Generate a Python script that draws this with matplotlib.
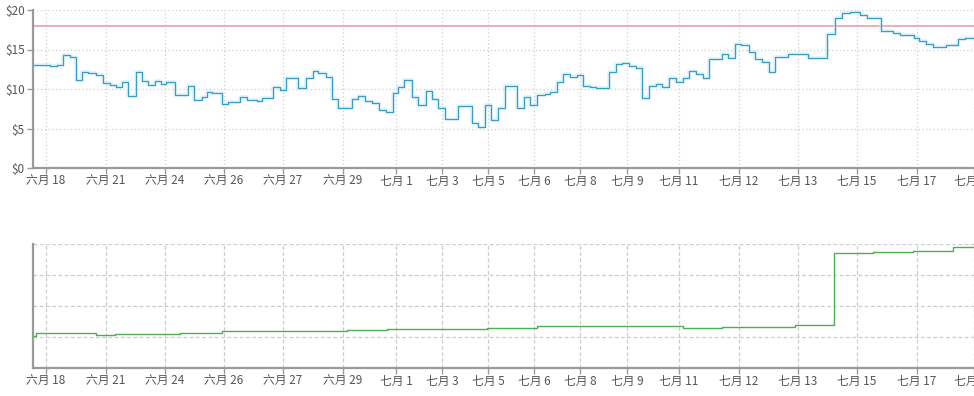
import numpy as np
import matplotlib
matplotlib.use("Agg")
import matplotlib.pyplot as plt

plt.rcParams['font.family'] = ['Noto Sans CJK SC', 'DejaVu Sans']

# posiciones (índice de muestra) y precios del tramo superior
price_t = [0, 17, 24, 30, 37, 43, 49, 55, 63, 70, 77, 83, 89, 95, 103, 109, 115, 122, 128, 133,
           142, 155, 161, 169, 174, 179, 189, 195, 207, 214, 224, 229, 240, 247, 253, 265, 273, 280,
           285, 293, 299, 305, 319, 325, 332, 339, 346, 353, 360, 365, 371, 379, 385, 393, 399, 405,
           412, 425, 439, 445, 452, 458, 465, 472, 484, 491, 497, 504, 512, 517, 524, 530, 537, 544,
           550, 557, 563, 576, 583, 589, 596, 603, 609, 616, 623, 629, 636, 643, 650, 656, 663, 670,
           676, 689, 695, 702, 708, 716, 722, 729, 736, 742, 755, 775, 794, 802, 809, 817, 827, 834,
           848, 860, 867, 881, 886, 893, 900, 913, 925, 932, 941]
price = [13.1, 12.95, 13.1, 14.3, 14.1, 11.2, 12.2, 12.0, 11.8, 10.7, 10.5, 10.3, 10.9, 9.15, 12.2,
         11.0, 10.45, 10.95, 10.6, 10.85, 9.3, 10.4, 8.6, 8.95, 9.65, 9.5, 8.05, 8.3, 9.0, 8.6, 8.45,
         8.85, 10.3, 9.9, 11.35, 10.1, 11.35, 12.3, 12.05, 11.55, 8.75, 7.65, 8.7, 9.1, 8.5, 8.25,
         7.35, 7.1, 9.45, 10.2, 11.2, 9.0, 7.95, 9.75, 8.7, 7.65, 6.25, 7.9, 5.65, 5.2, 7.95, 6.1,
         7.55, 10.4, 7.65, 9.0, 8.0, 9.25, 9.35, 9.65, 10.9, 11.85, 11.5, 11.8, 10.4, 10.3, 10.1,
         12.15, 13.15, 13.25, 12.9, 12.6, 8.8, 10.4, 10.6, 10.25, 11.35, 10.9, 11.35, 12.3, 11.9,
         11.35, 13.8, 14.45, 13.9, 15.7, 15.6, 14.7, 13.75, 13.45, 12.15, 14.1, 14.45, 13.9, 16.9,
         18.95, 19.6, 19.8, 19.35, 19.05, 17.4, 17.05, 16.85, 16.4, 16.1, 15.65, 15.35, 15.6, 16.35,
         16.4, 16.4]
ref_price = 18.0

# tramo inferior (sin escala visible)
rank_t = [0, 3, 63, 82, 147, 189, 203, 314, 354, 454, 504, 650, 689, 762, 801, 840, 880, 920, 941]
rank = [1.03, 1.12, 1.06, 1.09, 1.12, 1.18, 1.20, 1.23, 1.26, 1.30, 1.34, 1.28, 1.31, 1.38,
        3.72, 3.74, 3.76, 3.90, 3.90]

tick_t = [13, 73, 132, 191, 250, 310, 363, 409, 455, 501, 547, 594, 646, 706, 765, 824, 884, 941]
tick_labels = ["六月 18", "六月 21", "六月 24", "六月 26", "六月 27", "六月 29", "七月 1", "七月 3",
               "七月 5", "七月 6", "七月 8", "七月 9", "七月 11", "七月 12", "七月 13", "七月 15",
               "七月 17", "七月 19"]
y_ticks = [0, 5, 10, 15, 20]
y_labels = ["$0", "$5", "$10", "$15", "$20"]

W, H = 974, 396
fig = plt.figure(figsize=(W / 100, H / 100), dpi=100)
ax1 = fig.add_axes([33 / W, 1 - 168 / H, (W - 33) / W, 158 / H])
ax2 = fig.add_axes([33 / W, 1 - 368 / H, (W - 33) / W, 124 / H])

spine_c = "#9a9a9a"
text_c = "#555555"

for ax in (ax1, ax2):
    ax.set_xlim(0, 941)
    for s in ("top", "right"):
        ax.spines[s].set_visible(False)
    for s in ("left", "bottom"):
        ax.spines[s].set_color(spine_c)
        ax.spines[s].set_linewidth(1.6)
    ax.set_xticks(tick_t)
    ax.set_xticklabels(tick_labels)
    ax.tick_params(axis="both", colors=spine_c, labelcolor=text_c, labelsize=8.5, length=4, width=1)
    ax.tick_params(axis="x", pad=1)
    ax.set_axisbelow(True)

# gráfico de precio
ax1.set_ylim(0, 20)
ax1.set_yticks(y_ticks)
ax1.set_yticklabels(y_labels)
ax1.tick_params(axis="y", pad=2)
ax1.grid(True, color="#cccccc", linestyle=(0, (1, 2)), linewidth=0.9)
ax1.axhline(ref_price, color="#eaa0ae", linewidth=1.2)
ax1.step(price_t, price, where="post", color="#c4ebf7", linewidth=2.6, alpha=0.55)
ax1.step(price_t, price, where="post", color="#3a9ec4", linewidth=0.9)

# gráfico inferior
ax2.set_ylim(0, 4)
ax2.set_yticks([1, 2, 3, 4])
ax2.set_yticklabels([])
ax2.tick_params(axis="y", length=0)
ax2.grid(True, color="#cccccc", linestyle=(0, (3, 2)), linewidth=0.9)
ax2.step(rank_t, rank, where="post", color="#4caf50", linewidth=1.0)

fig.savefig("out.png", dpi=100, facecolor="white")
